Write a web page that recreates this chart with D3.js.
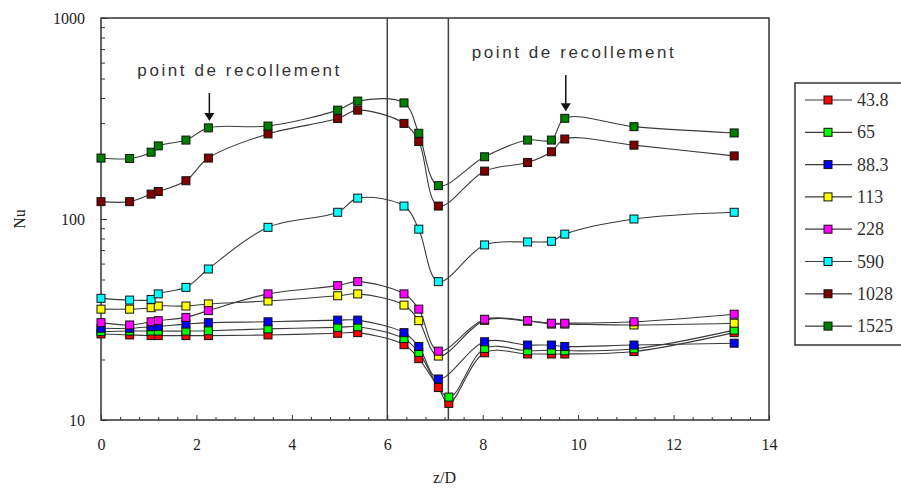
<!DOCTYPE html>
<html>
<head>
<meta charset="utf-8">
<script src="https://cdn.jsdelivr.net/npm/d3@7"></script>
<style>
  body { margin: 0; background: #fff; }
  svg { display: block; }
</style>
</head>
<body>
<svg id="chart" width="901" height="491"></svg>
<script>
// z/D positions of the measurement stations (null in a series = no marker there)
const zPos = [0, 0.6, 1.05, 1.2, 1.78, 2.25, 3.5, 4.96, 5.38, 6.35, 6.66, 7.07, 7.29, 8.04, 8.94, 9.44, 9.72, 11.17, 13.27];

const seriesNames = ["43.8", "65", "88.3", "113", "228", "590", "1028", "1525"];
const seriesColors = ["#ff0000", "#00ff00", "#0000ff", "#ffff00", "#ff00ff", "#00ffff", "#800000", "#008000"];

const nu43_8 = [26.8, 26.5, 26.3, 26.3, 26.3, 26.3, 26.5, 27.0, 27.2, 23.7, 20.2, 14.5, 12.1, 21.6, 21.3, 21.3, 21.3, 21.9, 27.2];
const nu65   = [27.5, 27.7, 27.7, 27.7, 27.7, 27.8, 28.4, 28.9, 29.1, 25.4, 21.7, null, 13.0, 22.7, 22.1, 22.2, 22.1, 22.6, 28.0];
const nu88_3 = [28.6, 28.6, 29.1, 29.2, 30.0, 30.5, 30.8, 31.4, 31.4, 27.2, 23.2, 16.0, null, 24.5, 23.6, 23.6, 23.2, 23.6, 24.1];
const nu113  = [35.6, 35.6, 36.2, 36.9, 36.9, 37.8, 39.1, 41.5, 42.4, 37.3, 31.2, 20.8, null, 31.3, 31.0, 30.0, 30.0, 29.7, 30.3];
const nu228  = [30.5, 29.7, 30.8, 31.2, 32.4, 35.0, 42.4, 46.6, 48.8, 42.4, 35.6, 22.0, null, 31.7, 31.2, 30.3, 30.3, 30.8, 33.6];
const nu590  = [40.3, 39.5, 39.8, 42.4, 45.7, 56.4, 90.9, 108, 127, 116, 89, 48.8, null, 74.3, 76.9, 77.5, 84.1, 100, 108];
const nu1028 = [122, 122, 133, 137, 155, 201, 265, 316, 348, 299, 243, 116, null, 173, 191, 216, 250, 233, 206];
const nu1525 = [201, 200, 215, 231, 247, 284, 290, 348, 386, 378, 267, 146.5, null, 204, 247, 247, 317, 288, 268];

const allValues = [nu43_8, nu65, nu88_3, nu113, nu228, nu590, nu1028, nu1525];

const xTicks = [0, 2, 4, 6, 8, 10, 12, 14];
const yTicks = [10, 100, 1000];
const separations = [6, 7.28];   // vertical lines
const notes = [
  { text: "point de recollement", z: 2.25, nu: 284 },
  { text: "point de recollement", z: 9.72, nu: 317 }
];

const margin = { top: 18, right: 132, bottom: 71, left: 101 };
const W = 901, H = 491;
const width = W - margin.left - margin.right;
const height = H - margin.top - margin.bottom;

const svg = d3.select("#chart");
const g = svg.append("g").attr("transform", `translate(${margin.left},${margin.top})`);

const x = d3.scaleLinear().domain([0, 14]).range([0, width]);
const y = d3.scaleLog().domain([10, 1000]).range([height, 0]);

const serif = "'Liberation Serif', 'Times New Roman', serif";
const sans = "'Liberation Sans', Arial, sans-serif";

// minor ticks
const xMinor = d3.range(0, 14.001, 0.4).filter(v => Math.abs(v / 2 - Math.round(v / 2)) > 0.01);
const yMinor = [];
[10, 100].forEach(d => { for (let k = 2; k <= 9; k++) yMinor.push(d * k); });

g.append("g")
  .attr("transform", `translate(0,${height})`)
  .call(d3.axisBottom(x).tickValues(xMinor).tickSizeInner(-3).tickSizeOuter(0).tickFormat(""))
  .call(a => a.select(".domain").remove())
  .call(a => a.selectAll("line").attr("stroke", "#333"));

g.append("g")
  .attr("transform", `translate(0,${height})`)
  .call(d3.axisBottom(x).tickValues(xTicks).tickSizeInner(-5).tickSizeOuter(0).tickPadding(19).tickFormat(d3.format("d")))
  .call(a => a.select(".domain").remove())
  .call(a => a.selectAll("line").attr("stroke", "#333"))
  .call(a => a.selectAll("text").attr("font-family", serif).attr("font-size", 16).attr("fill", "#222"));

g.append("g")
  .call(d3.axisLeft(y).tickValues(yMinor).tickSizeInner(-4).tickSizeOuter(0).tickFormat(""))
  .call(a => a.select(".domain").remove())
  .call(a => a.selectAll("line").attr("stroke", "#333"));

g.append("g")
  .call(d3.axisLeft(y).tickValues(yTicks).tickSizeInner(-6).tickSizeOuter(0).tickPadding(16).tickFormat(d3.format("d")))
  .call(a => a.select(".domain").remove())
  .call(a => a.selectAll("line").attr("stroke", "#333"))
  .call(a => a.selectAll("text").attr("font-family", serif).attr("font-size", 16).attr("fill", "#222"));

// frame
g.append("rect")
  .attr("width", width).attr("height", height)
  .attr("fill", "none").attr("stroke", "#333").attr("stroke-width", 1.5);

// separation lines
g.selectAll(".sep").data(separations).enter().append("line")
  .attr("x1", d => x(d)).attr("x2", d => x(d))
  .attr("y1", 0).attr("y2", height)
  .attr("stroke", "#444").attr("stroke-width", 1.5);

// series
const line = d3.line()
  .defined(d => d.nu != null)
  .x(d => x(d.z)).y(d => y(d.nu))
  .curve(d3.curveCatmullRom.alpha(0.5));

const series = seriesNames.map((name, i) => ({
  name, color: seriesColors[i],
  points: zPos.map((z, j) => ({ z, nu: allValues[i][j] })).filter(p => p.nu != null)
}));

series.forEach(s => {
  g.append("path")
    .datum(s.points)
    .attr("d", line)
    .attr("fill", "none")
    .attr("stroke", "#3a3a3a")
    .attr("stroke-width", 1.1);
});

series.forEach(s => {
  g.append("g").selectAll("rect").data(s.points).enter().append("rect")
    .attr("x", d => x(d.z) - 4).attr("y", d => y(d.nu) - 4)
    .attr("width", 8).attr("height", 8)
    .attr("fill", s.color).attr("stroke", "#111").attr("stroke-width", 1);
});

// annotations
notes.forEach((n, i) => {
  const px = x(n.z), py = y(n.nu);
  const textY = i === 0 ? 76 - margin.top : 58 - margin.top;
  g.append("text")
    .attr("x", px + (i === 0 ? -71 : -93))
    .attr("y", textY)
    .attr("textLength", 202).attr("lengthAdjust", "spacing")
    .attr("font-family", sans).attr("font-size", 17).attr("fill", "#333")
    .text(n.text);
  const top = textY + 17, bot = py - 7;
  g.append("line")
    .attr("x1", px + 1).attr("x2", px + 1).attr("y1", top).attr("y2", bot - 6)
    .attr("stroke", "#111").attr("stroke-width", 1.5);
  g.append("path")
    .attr("d", `M${px - 4},${bot - 8}L${px + 6},${bot - 8}L${px + 1},${bot}Z`)
    .attr("fill", "#111");
});

// axis titles
svg.append("text")
  .attr("x", margin.left + x(7.2)).attr("y", 483)
  .attr("text-anchor", "middle")
  .attr("font-family", serif).attr("font-size", 16).attr("fill", "#222")
  .text("z/D");

svg.append("text")
  .attr("transform", `translate(25,${margin.top + y(100)}) rotate(-90)`)
  .attr("text-anchor", "middle")
  .attr("font-family", serif).attr("font-size", 16).attr("fill", "#222")
  .text("Nu");

// legend
const legend = svg.append("g").attr("transform", "translate(795,83)");
legend.append("rect")
  .attr("width", 120).attr("height", 262)
  .attr("fill", "#fff").attr("stroke", "#333").attr("stroke-width", 1.5);

const item = legend.selectAll(".item").data(series).enter().append("g")
  .attr("transform", (d, i) => `translate(0,${17 + i * 32.3})`);
item.append("line")
  .attr("x1", 10).attr("x2", 57).attr("stroke", "#3a3a3a").attr("stroke-width", 1.2);
item.append("rect")
  .attr("x", 29).attr("y", -4).attr("width", 8).attr("height", 8)
  .attr("fill", d => d.color).attr("stroke", "#111");
item.append("text")
  .attr("x", 62).attr("y", 6)
  .attr("font-family", serif).attr("font-size", 18).attr("fill", "#333")
  .text(d => d.name);
</script>
</body>
</html>
